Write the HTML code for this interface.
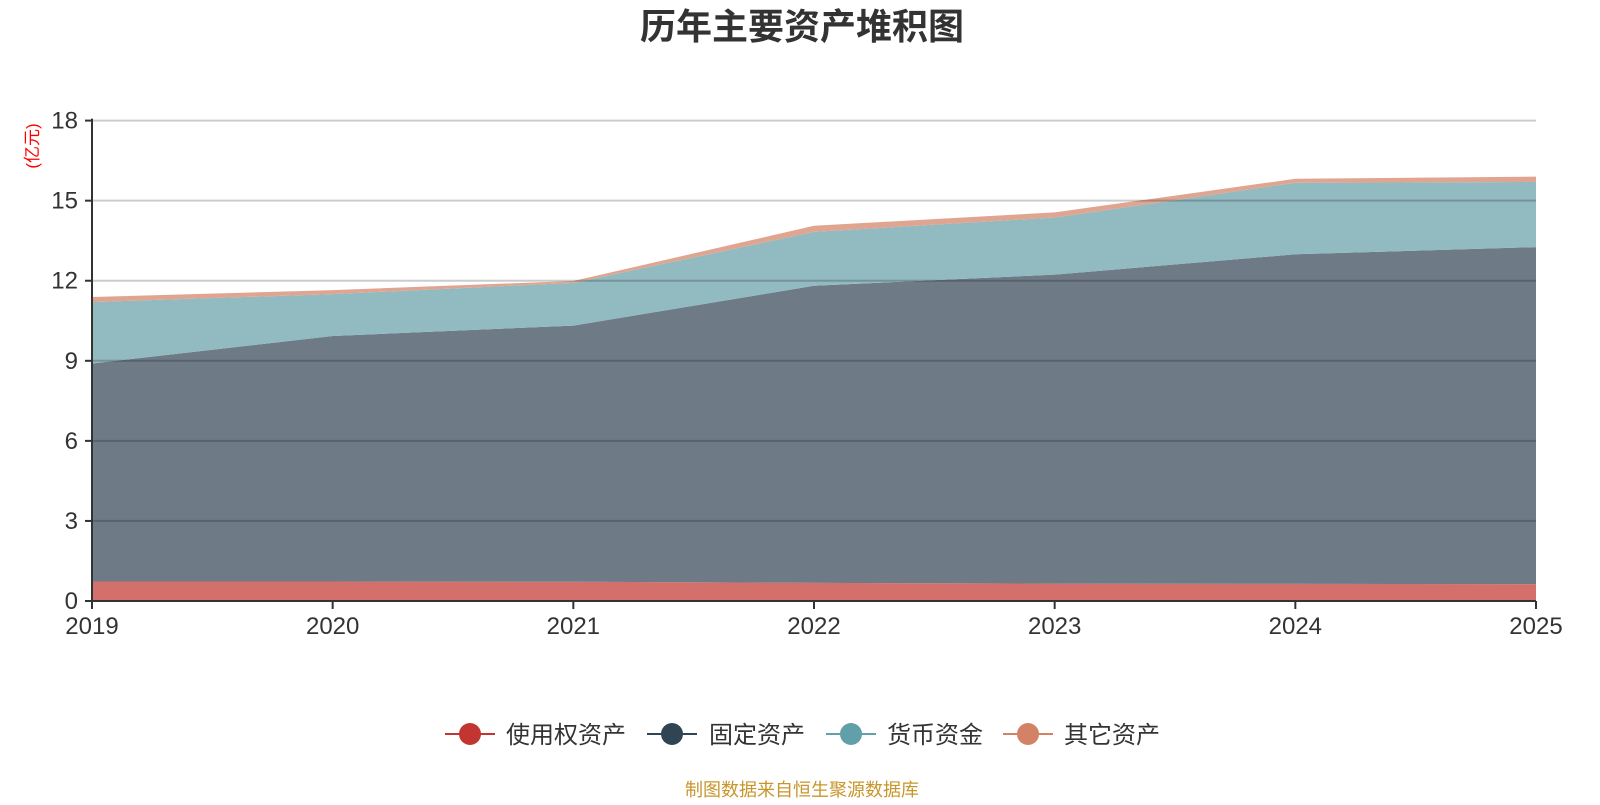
<!DOCTYPE html>
<html><head><meta charset="utf-8"><style>
body{margin:0;background:#fff;width:1600px;height:800px;overflow:hidden;font-family:"Liberation Sans","Noto Sans CJK SC",sans-serif;}
</style></head><body>
<svg id="chart" width="1600" height="800" xmlns="http://www.w3.org/2000/svg">
<text x="802" y="39" text-anchor="middle" font-size="36" font-weight="bold" fill="#333" font-family="Liberation Sans, Noto Sans CJK SC, sans-serif">历年主要资产堆积图</text>
<text transform="translate(38,146) rotate(-90)" text-anchor="middle" font-size="17" fill="#ff0000" font-family="Liberation Sans, Noto Sans CJK SC, sans-serif">(亿元)</text>
<g id="areas"></g>
<g id="grid"></g>
<g id="axes"></g>
<g id="legend"></g>
<text x="802" y="796" text-anchor="middle" font-size="18" fill="#c8952a" font-family="Liberation Sans, Noto Sans CJK SC, sans-serif">制图数据来自恒生聚源数据库</text>
</svg>
<script>
const years = ['2019','2020','2021','2022','2023','2024','2025'];
const rouAssets = [0.73,0.73,0.72,0.68,0.65,0.64,0.63];
const fixedAssets = [8.17,9.2,9.6,11.13,11.58,12.35,12.63];
const cashAssets = [2.3,1.57,1.6,2.02,2.14,2.68,2.44];
const otherAssets = [0.19,0.15,0.07,0.23,0.19,0.15,0.2];
const yTicks = [0,3,6,9,12,15,18];
const seriesNames = ['使用权资产','固定资产','货币资金','其它资产'];

const NS='http://www.w3.org/2000/svg';
const X0=92,X1=1536,Y0=601,Y1=120.6,YMAX=18;
const xs=i=>X0+(X1-X0)*i/(years.length-1);
const ys=v=>Y0-(Y0-Y1)*v/YMAX;
function mk(tag,attrs,parent){const e=document.createElementNS(NS,tag);for(const k in attrs)e.setAttribute(k,attrs[k]);parent.appendChild(e);return e;}
const areas=document.getElementById('areas'),grid=document.getElementById('grid'),axes=document.getElementById('axes'),legend=document.getElementById('legend');
const series=[rouAssets,fixedAssets,cashAssets,otherAssets];
const fills=['#d4706c','#6e7b86','#91bac1','#e0a591'];
const dots=['#c23531','#2f4554','#61a0a8','#d48265'];
const keys=['rou','fixed','cash','other'];
let base=years.map(()=>0);
series.forEach((s,k)=>{
  const top=base.map((b,i)=>b+s[i]);
  let d='M'+years.map((_,i)=>xs(i)+','+ys(top[i])).join(' L');
  for(let i=years.length-1;i>=0;i--)d+=' L'+xs(i)+','+ys(base[i]);
  d+=' Z';
  const p=mk('path',{d:d,fill:fills[k]},areas);
  
  
  base=top;
});
yTicks.forEach(t=>{
  if(t>0){const l=mk('line',{x1:X0,x2:X1,y1:ys(t),y2:ys(t),stroke:'rgba(0,0,0,0.2)','stroke-width':2},grid);
  
  }
  const tk=mk('line',{x1:X0-7,x2:X0,y1:ys(t),y2:ys(t),stroke:'#333','stroke-width':2},axes);
  
  
  const tx=mk('text',{x:X0-14,y:ys(t)+8,'text-anchor':'end','font-size':24,fill:'#333'},axes);
  tx.textContent=t;
  
  
});
const ya=mk('line',{x1:X0,x2:X0,y1:Y1-2,y2:Y0,stroke:'#333','stroke-width':2},axes);


const xa=mk('line',{x1:X0,x2:X1,y1:Y0,y2:Y0,stroke:'#333','stroke-width':2},axes);


years.forEach((y,i)=>{
  const tk=mk('line',{x1:xs(i),x2:xs(i),y1:Y0,y2:Y0+8,stroke:'#333','stroke-width':2},axes);
  
  
  const tx=mk('text',{x:xs(i),y:Y0+33,'text-anchor':'middle','font-size':24,fill:'#333'},axes);
  tx.textContent=y;
  
  
});
const lx=[470,672,851,1028],tx0=[506,709,887,1064];
seriesNames.forEach((n,k)=>{
  const g=mk('g',{},legend);
  
  
  mk('line',{x1:lx[k]-25,x2:lx[k]+25,y1:734,y2:734,stroke:dots[k],'stroke-width':2},g);
  mk('circle',{cx:lx[k],cy:734,r:11,fill:dots[k]},g);
  const t=mk('text',{x:tx0[k],y:743,'font-size':24,fill:'#333'},g);
  t.textContent=n;
});
</script>
</body></html>
